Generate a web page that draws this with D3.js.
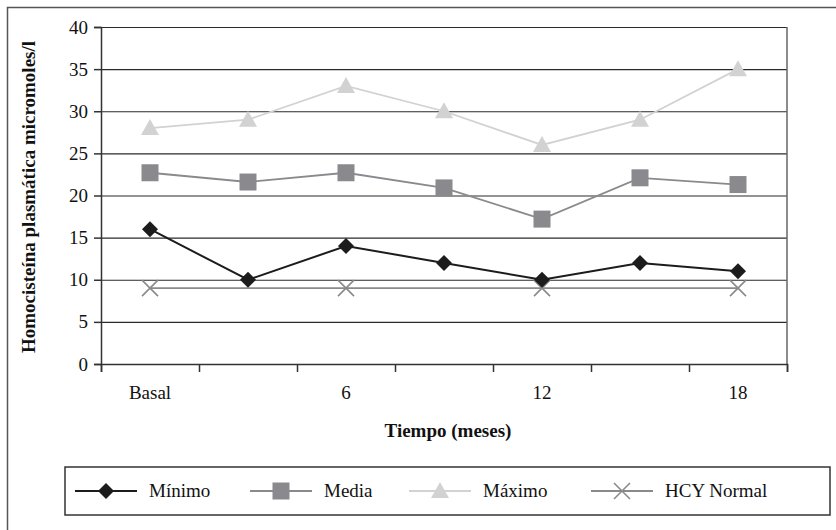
<!DOCTYPE html>
<html>
<head>
<meta charset="utf-8">
<script src="https://cdn.jsdelivr.net/npm/d3@7"></script>
<style>
  html, body { margin: 0; padding: 0; background: #fff; }
  svg { display: block; }
  text { font-family: "Liberation Serif", "Times New Roman", serif; fill: #111; }
</style>
</head>
<body>
<svg id="chart" width="836" height="530"></svg>
<script>
// Time points (months); only some carry a printed label
const periods = ["Basal", "3", "6", "9", "12", "15", "18"];
const periodLabels = ["Basal", "", "6", "", "12", "", "18"];

// Plasma homocysteine (micromoles/l) per time point
const minimo = [16, 10, 14, 12, 10, 12, 11];
const media = [22.7, 21.6, 22.7, 20.9, 17.2, 22.1, 21.3];
const maximo = [28, 29, 33, 30, 26, 29, 35];
const hcyNormal = [9, null, 9, null, 9, null, 9];

const yTicks = [0, 5, 10, 15, 20, 25, 30, 35, 40];

const seriesNames = ["Mínimo", "Media", "Máximo", "HCY Normal"];
const seriesValues = [minimo, media, maximo, hcyNormal];
const seriesColors = ["#1c1c1c", "#8a8a8e", "#d2d2d2", "#8a8a8a"];
const seriesMarkers = ["diamond", "square", "triangle", "cross"];

const svg = d3.select("#chart");
const W = 836, H = 530;

// outer frame
svg.append("rect")
  .attr("x", 7.5).attr("y", 7.5)
  .attr("width", W).attr("height", H)
  .attr("fill", "none").attr("stroke", "#555").attr("stroke-width", 1.5);

const plot = { left: 101, top: 27, right: 787, bottom: 364 };

const x = d3.scaleBand().domain(d3.range(periods.length))
  .range([plot.left, plot.right]).paddingInner(0).paddingOuter(0);
const xEdges = d3.scaleLinear().domain([0, periods.length]).range([plot.left, plot.right]);
const y = d3.scaleLinear().domain([0, 40]).range([plot.bottom, plot.top]);

const g = svg.append("g");

// horizontal gridlines
g.append("g")
  .attr("transform", `translate(${plot.left},0)`)
  .call(d3.axisLeft(y).tickValues(yTicks.slice(1)).tickSize(-(plot.right - plot.left)).tickFormat(""))
  .call(s => s.select(".domain").remove())
  .call(s => s.selectAll("line").attr("stroke", "#2a2a2a").attr("stroke-width", 1.2));

// right border of the plot area
g.append("line")
  .attr("x1", plot.right).attr("x2", plot.right)
  .attr("y1", plot.top).attr("y2", plot.bottom)
  .attr("stroke", "#666").attr("stroke-width", 1.5);

// y axis
g.append("g")
  .attr("transform", `translate(${plot.left},0)`)
  .call(d3.axisLeft(y).tickValues(yTicks).tickSize(7).tickPadding(6))
  .call(s => s.select(".domain").attr("stroke", "#333").attr("stroke-width", 1.5))
  .call(s => s.selectAll("line").attr("stroke", "#333").attr("stroke-width", 1.5))
  .call(s => s.selectAll("text").attr("font-size", 19)
    .attr("font-family", "Liberation Serif, serif").attr("fill", "#111"));

// x axis: ticks between periods
g.append("g")
  .attr("transform", `translate(0,${plot.bottom})`)
  .call(d3.axisBottom(xEdges).tickValues(d3.range(periods.length + 1)).tickSize(8).tickFormat(""))
  .call(s => s.select(".domain").attr("stroke", "#333").attr("stroke-width", 1.5))
  .call(s => s.selectAll("line").attr("stroke", "#333").attr("stroke-width", 1.5));

// x labels centred on periods
g.append("g")
  .attr("transform", `translate(0,${plot.bottom})`)
  .call(d3.axisBottom(x).tickSize(0).tickPadding(22).tickFormat(i => periodLabels[i]))
  .call(s => s.select(".domain").remove())
  .call(s => s.selectAll("text").attr("font-size", 19)
    .attr("font-family", "Liberation Serif, serif").attr("fill", "#111"));

// axis titles
svg.append("text")
  .attr("x", (plot.left + plot.right) / 2 + 4).attr("y", 437)
  .attr("text-anchor", "middle").attr("font-size", 19).attr("font-weight", "bold")
  .text("Tiempo (meses)");

svg.append("text")
  .attr("transform", "translate(35,197) rotate(-90)")
  .attr("text-anchor", "middle").attr("font-size", 19).attr("font-weight", "bold")
  .text("Homocisteína plasmática micromoles/l");

// marker drawing
function drawMarker(sel, type, color) {
  if (type === "diamond") {
    sel.append("path").attr("d", "M0,-8L8,0L0,8L-8,0Z").attr("fill", color);
  } else if (type === "square") {
    sel.append("rect").attr("x", -8.5).attr("y", -8.5).attr("width", 17).attr("height", 17).attr("fill", color);
  } else if (type === "triangle") {
    sel.append("path").attr("d", "M0,-9L9,7L-9,7Z").attr("fill", color);
  } else if (type === "cross") {
    sel.append("path").attr("d", "M-8,-8L8,8M-8,8L8,-8")
      .attr("stroke", color).attr("stroke-width", 1.6).attr("fill", "none");
  }
}

const cx = i => x(i) + x.bandwidth() / 2;

// series lines and markers (drawn back to front)
const order = [3, 2, 1, 0];
order.forEach(k => {
  const vals = seriesValues[k];
  const pts = vals.map((v, i) => ({ i, v })).filter(d => d.v != null);
  const line = d3.line().x(d => cx(d.i)).y(d => y(d.v));
  g.append("path").datum(pts)
    .attr("d", line)
    .attr("fill", "none")
    .attr("stroke", seriesColors[k])
    .attr("stroke-width", k === 0 ? 2 : 1.8);
  g.selectAll(null).data(pts).enter().append("g")
    .attr("transform", d => `translate(${cx(d.i)},${y(d.v)})`)
    .each(function () { drawMarker(d3.select(this), seriesMarkers[k], seriesColors[k]); });
});

// legend
const legend = svg.append("g");
legend.append("rect")
  .attr("x", 65).attr("y", 467).attr("width", 765).attr("height", 48)
  .attr("fill", "#fff").attr("stroke", "#333").attr("stroke-width", 1.5);

const legendX = [75, 250, 409, 591];
seriesNames.forEach((name, k) => {
  const lg = legend.append("g").attr("transform", `translate(${legendX[k]},491)`);
  lg.append("line").attr("x1", 0).attr("x2", 62).attr("y1", 0).attr("y2", 0)
    .attr("stroke", seriesColors[k]).attr("stroke-width", 2);
  const m = lg.append("g").attr("transform", "translate(31,0)");
  drawMarker(m, seriesMarkers[k], seriesColors[k]);
  lg.append("text").attr("x", 74).attr("y", 0).attr("dy", "0.33em")
    .attr("font-size", 19).text(name);
});
</script>
</body>
</html>
